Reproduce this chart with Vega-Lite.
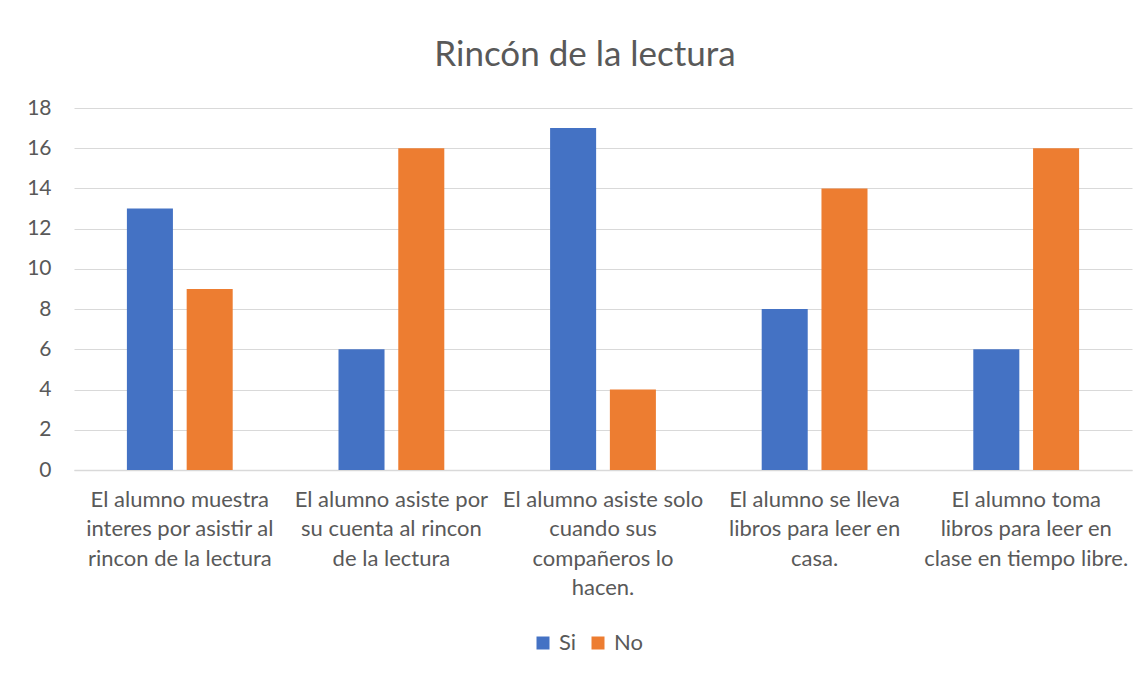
{
  "$schema": "https://vega.github.io/schema/vega-lite/v6.json",
  "width": 1058,
  "height": 362,
  "autosize": {"type": "none"},
  "padding": {"left": 74, "top": 108, "right": 16, "bottom": 205},
  "background": "white",
  "title": {
    "text": "Rincón de la lectura",
    "font": "Lato",
    "fontSize": 35,
    "fontWeight": "normal",
    "color": "#595959",
    "anchor": "middle",
    "dx": -18,
    "offset": 24
  },
  "data": {
    "values": [
      {"pregunta": "El alumno muestra\ninteres por asistir al\nrincon de la lectura", "orden": 1, "respuesta": "Si", "alumnos": 13},
      {"pregunta": "El alumno muestra\ninteres por asistir al\nrincon de la lectura", "orden": 1, "respuesta": "No", "alumnos": 9},
      {"pregunta": "El alumno asiste por\nsu cuenta al rincon\nde la lectura", "orden": 2, "respuesta": "Si", "alumnos": 6},
      {"pregunta": "El alumno asiste por\nsu cuenta al rincon\nde la lectura", "orden": 2, "respuesta": "No", "alumnos": 16},
      {"pregunta": "El alumno asiste solo\ncuando sus\ncompañeros lo\nhacen.", "orden": 3, "respuesta": "Si", "alumnos": 17},
      {"pregunta": "El alumno asiste solo\ncuando sus\ncompañeros lo\nhacen.", "orden": 3, "respuesta": "No", "alumnos": 4},
      {"pregunta": "El alumno se lleva\nlibros para leer en\ncasa.", "orden": 4, "respuesta": "Si", "alumnos": 8},
      {"pregunta": "El alumno se lleva\nlibros para leer en\ncasa.", "orden": 4, "respuesta": "No", "alumnos": 14},
      {"pregunta": "El alumno toma\nlibros para leer en\nclase en tiempo libre.", "orden": 5, "respuesta": "Si", "alumnos": 6},
      {"pregunta": "El alumno toma\nlibros para leer en\nclase en tiempo libre.", "orden": 5, "respuesta": "No", "alumnos": 16}
    ]
  },
  "mark": {"type": "bar"},
  "encoding": {
    "x": {
      "field": "pregunta",
      "type": "nominal",
      "sort": {"field": "orden", "op": "min"},
      "scale": {"paddingInner": 0.5, "paddingOuter": 0.25},
      "axis": {
        "title": null,
        "labelAngle": 0,
        "labelExpr": "split(datum.label, '\\n')",
        "labelFont": "Lato",
        "labelFontSize": 22,
        "labelColor": "#595959",
        "labelLimit": 0,
        "labelLineHeight": 29.5,
        "labelPadding": 19,
        "labelBaseline": "top",
        "ticks": false,
        "domainColor": "#d9d9d9",
        "domainWidth": 1.5
      }
    },
    "xOffset": {
      "field": "respuesta",
      "type": "nominal",
      "sort": ["Si", "No"],
      "scale": {"paddingInner": 0.23, "paddingOuter": 0}
    },
    "y": {
      "field": "alumnos",
      "type": "quantitative",
      "scale": {"domain": [0, 18], "nice": false},
      "axis": {
        "title": null,
        "values": [0, 2, 4, 6, 8, 10, 12, 14, 16, 18],
        "labelFont": "Lato",
        "labelFontSize": 21,
        "labelColor": "#595959",
        "labelPadding": 23,
        "ticks": false,
        "domain": false,
        "gridColor": "#d9d9d9",
        "gridWidth": 1.2
      }
    },
    "color": {
      "field": "respuesta",
      "type": "nominal",
      "sort": ["Si", "No"],
      "scale": {"domain": ["Si", "No"], "range": ["#4472C4", "#ED7D31"]},
      "legend": {
        "title": null,
        "orient": "none",
        "legendX": 458,
        "legendY": 524,
        "direction": "horizontal",
        "symbolType": "square",
        "symbolSize": 169,
        "symbolStrokeWidth": 0,
        "symbolOpacity": 1,
        "labelFont": "Lato",
        "labelFontSize": 22,
        "labelColor": "#595959",
        "labelOffset": 5,
        "columnPadding": 10
      }
    }
  },
  "config": {
    "view": {"stroke": null}
  }
}
